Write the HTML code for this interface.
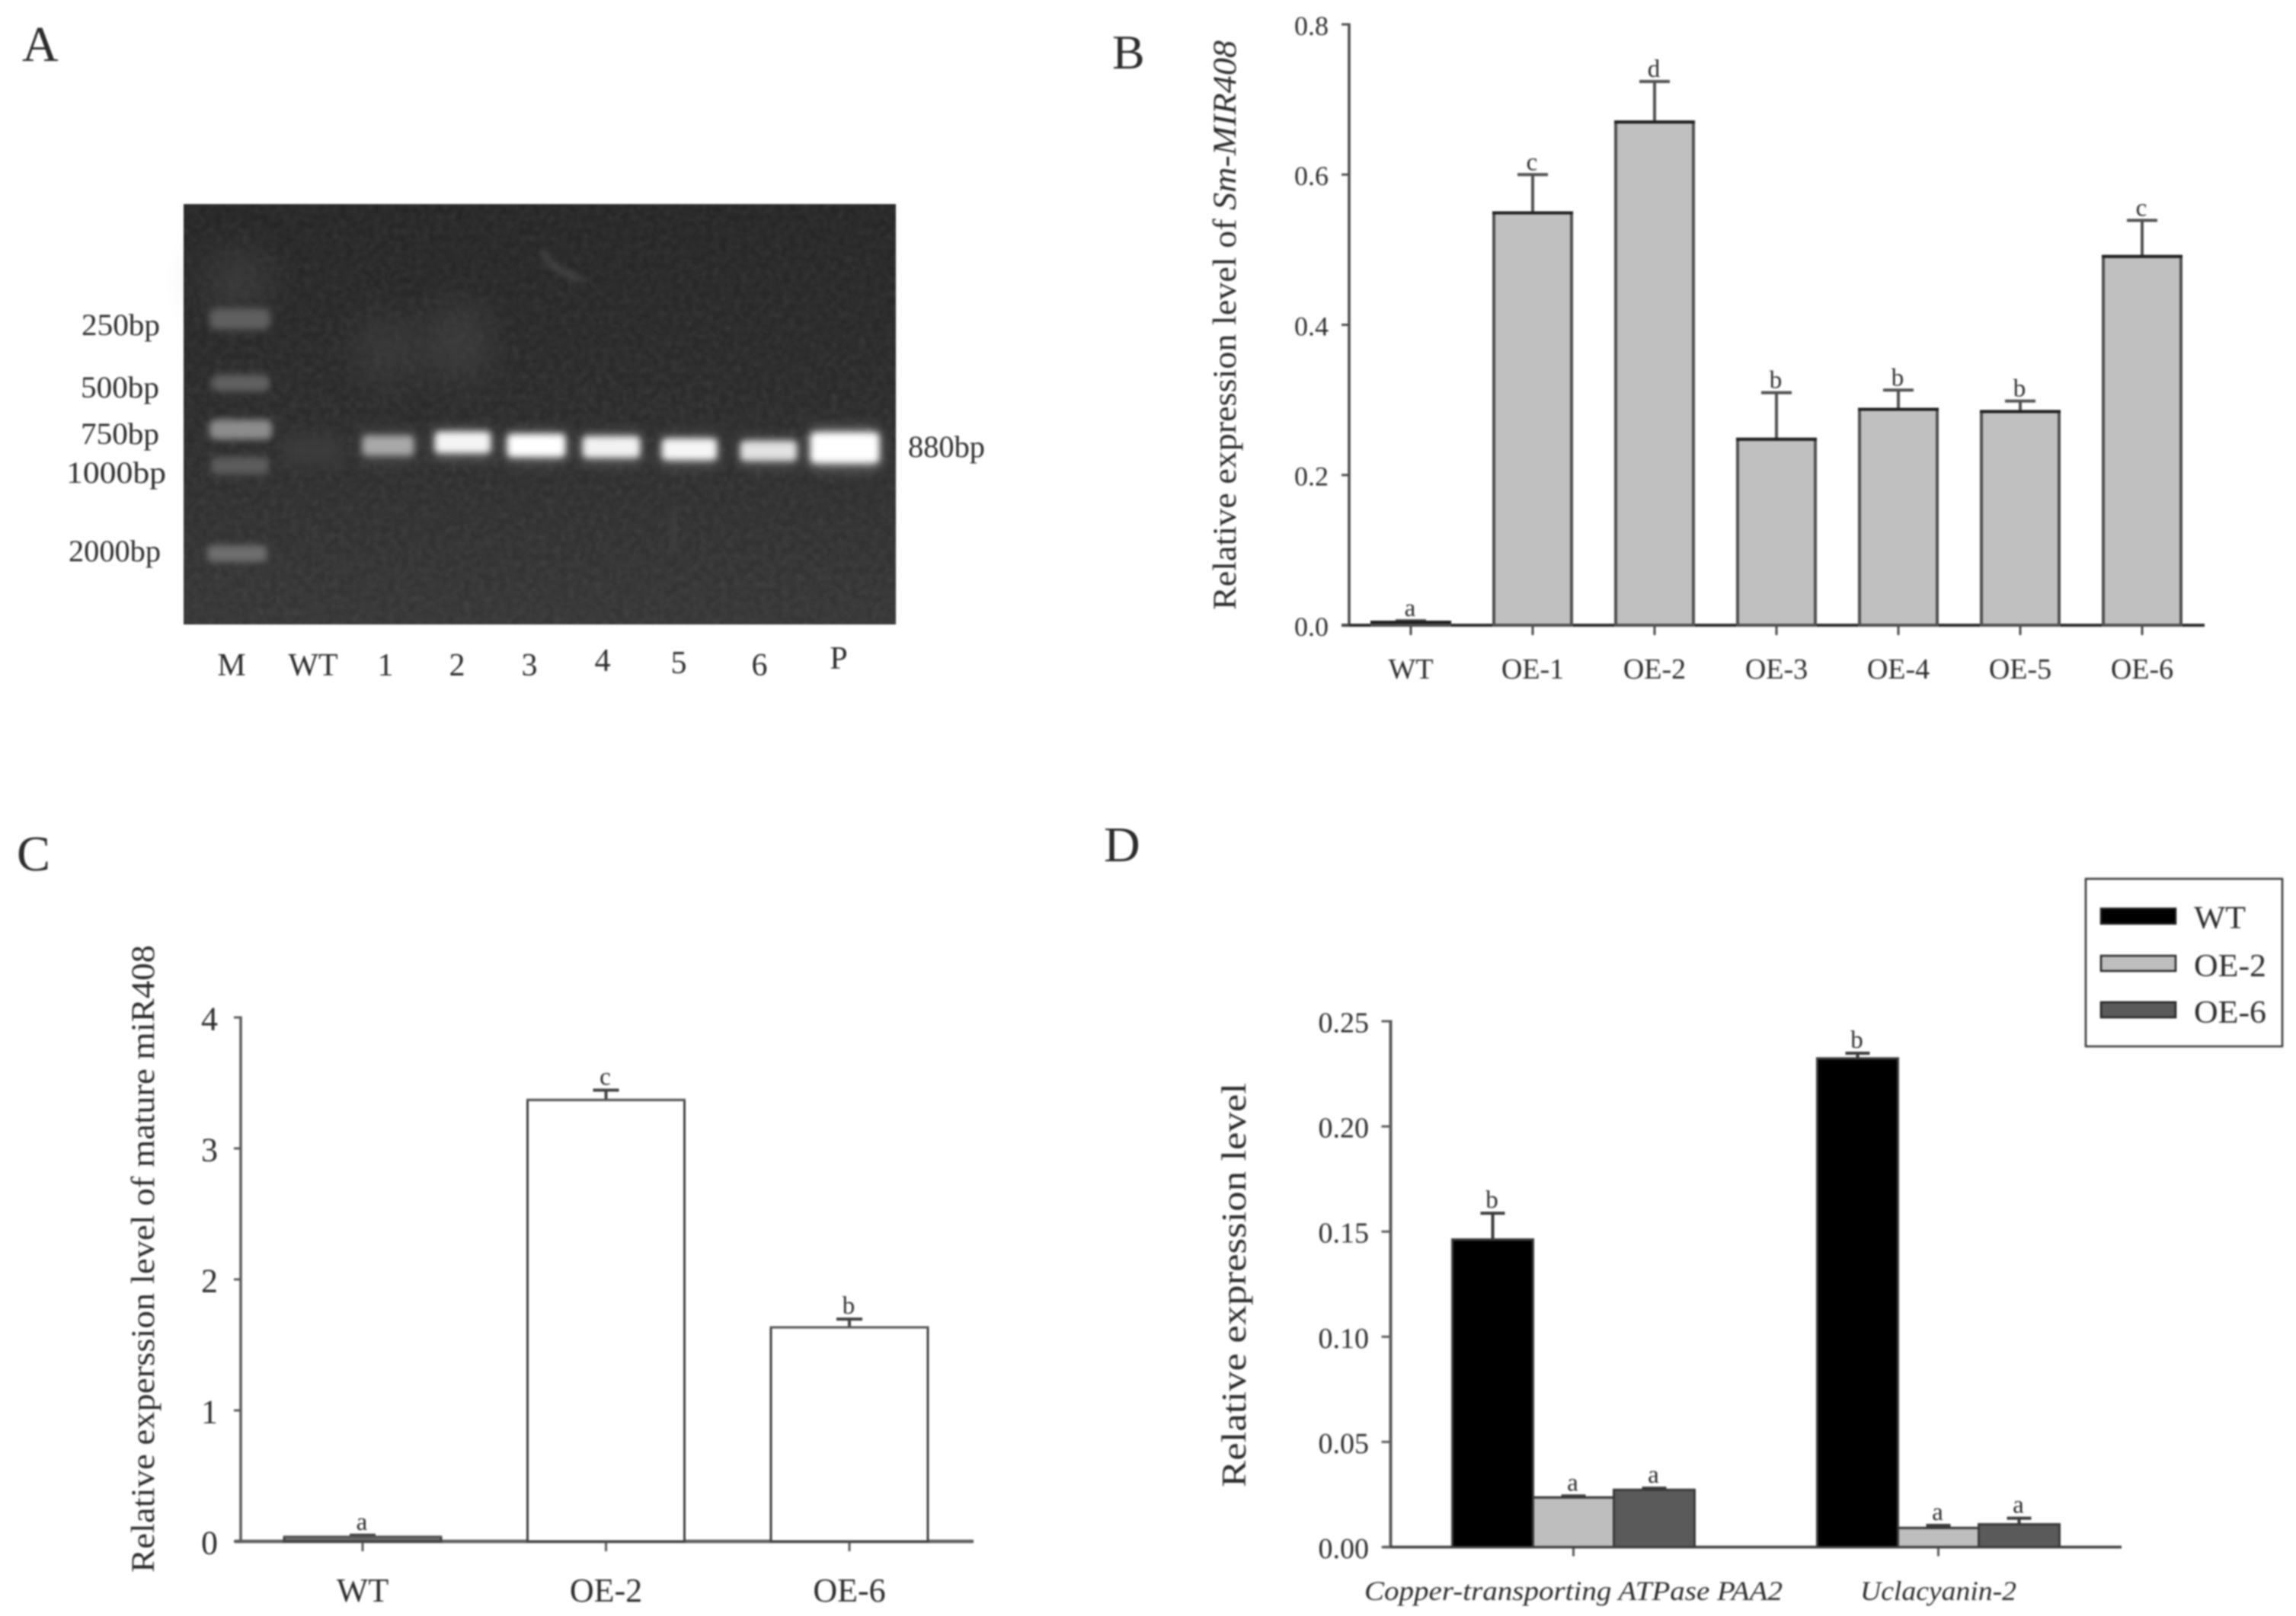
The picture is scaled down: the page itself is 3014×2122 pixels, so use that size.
<!DOCTYPE html>
<html lang="en">
<head>
<meta charset="utf-8">
<title>Sm-MIR408 expression figure</title>
<style>
html,body{margin:0;padding:0;background:#fff;width:3014px;height:2122px;overflow:hidden}
svg{display:block;filter:blur(1.1px)}
text{font-family:"Liberation Serif",serif;fill:#2c2c2c}
</style>
</head>
<body>
<svg id="fig" xmlns="http://www.w3.org/2000/svg" width="3014" height="2122" viewBox="0 0 3014 2122">
  <defs>
    <linearGradient id="gelBg" x1="0" y1="0" x2="0" y2="1">
      <stop offset="0" stop-color="#262626"/>
      <stop offset="0.45" stop-color="#2b2b2b"/>
      <stop offset="1" stop-color="#363636"/>
    </linearGradient>
    <filter id="b3" x="-30%" y="-80%" width="160%" height="260%"><feGaussianBlur stdDeviation="4.5"/></filter>
    <filter id="b8" x="-30%" y="-80%" width="160%" height="260%"><feGaussianBlur stdDeviation="9"/></filter>
    <filter id="b20" x="-60%" y="-60%" width="220%" height="220%"><feGaussianBlur stdDeviation="24"/></filter>
    <filter id="noise" x="0" y="0" width="100%" height="100%">
      <feTurbulence type="fractalNoise" baseFrequency="0.11" numOctaves="2" seed="4"/>
      <feColorMatrix type="matrix" values="0 0 0 0 1  0 0 0 0 1  0 0 0 0 1  0.4 0.4 0 0 -0.28"/>
    </filter>
  </defs>

  <text x="29" y="80" font-size="66">A</text>
  <text x="1460" y="90" font-size="64">B</text>
  <text x="22" y="1143" font-size="66">C</text>
  <text x="1449" y="1131" font-size="66">D</text>

  <g>
    <rect x="241" y="268" width="935" height="552" fill="url(#gelBg)"/>
    <rect x="241" y="268" width="935" height="552" filter="url(#noise)" opacity="0.18"/>
    <ellipse cx="312" cy="370" rx="44" ry="42" fill="#474747" opacity="0.55" filter="url(#b20)"/>
    <ellipse cx="508" cy="460" rx="40" ry="48" fill="#454545" opacity="0.55" filter="url(#b20)"/>
    <ellipse cx="600" cy="450" rx="42" ry="52" fill="#474747" opacity="0.6" filter="url(#b20)"/>
    <path d="M714 330 Q722 356 764 366" stroke="#4a4a4a" stroke-width="7" fill="none" filter="url(#b3)"/>
    <path d="M884 672 Q892 692 880 725" stroke="#414141" stroke-width="9" fill="none" filter="url(#b3)"/>

    <g>
      <rect x="275" y="405" width="80" height="28" rx="10" fill="#5e5e5e" filter="url(#b3)"/>
      <rect x="278" y="492" width="76" height="22" rx="8" fill="#606060" filter="url(#b3)"/>
      <rect x="275" y="551" width="82" height="26" rx="8" fill="#8c8c8c" filter="url(#b3)"/>
      <rect x="277" y="600" width="76" height="23" rx="7" fill="#5c5c5c" filter="url(#b3)"/>
      <rect x="272" y="716" width="78" height="22" rx="6" fill="#6e6e6e" filter="url(#b3)"/>
    </g>

    <g>
      <rect x="372" y="572" width="75" height="40" fill="#3a3a3a" filter="url(#b8)"/>
      <rect x="473" y="568" width="73" height="38" fill="#4c4c4c" filter="url(#b8)"/>
      <rect x="476" y="572" width="67" height="26" rx="5" fill="#a8a8a8" filter="url(#b3)"/>
      <rect x="570" y="564" width="75" height="38" fill="#5e5e5e" filter="url(#b8)"/>
      <rect x="571" y="567" width="73" height="28" rx="5" fill="#f4f4f4" filter="url(#b3)"/>
      <rect x="665" y="568" width="78" height="38" fill="#666" filter="url(#b8)"/>
      <rect x="666" y="570" width="76" height="30" rx="5" fill="#ffffff" filter="url(#b3)"/>
      <rect x="764" y="570" width="77" height="38" fill="#5e5e5e" filter="url(#b8)"/>
      <rect x="765" y="573" width="75" height="28" rx="5" fill="#f2f2f2" filter="url(#b3)"/>
      <rect x="868" y="573" width="74" height="38" fill="#5e5e5e" filter="url(#b8)"/>
      <rect x="869" y="576" width="72" height="28" rx="5" fill="#f6f6f6" filter="url(#b3)"/>
      <rect x="971" y="576" width="76" height="36" fill="#585858" filter="url(#b8)"/>
      <rect x="972" y="579" width="74" height="26" rx="5" fill="#e2e2e2" filter="url(#b3)"/>
      <rect x="1064" y="564" width="90" height="50" fill="#7a7a7a" filter="url(#b8)"/>
      <rect x="1064" y="568" width="90" height="40" rx="6" fill="#ffffff" filter="url(#b3)"/>
    </g>
  </g>

  <g font-size="40">
    <text x="107" y="440" textLength="103" lengthAdjust="spacingAndGlyphs">250bp</text>
    <text x="106" y="522" textLength="103" lengthAdjust="spacingAndGlyphs">500bp</text>
    <text x="106" y="583" textLength="103" lengthAdjust="spacingAndGlyphs">750bp</text>
    <text x="87" y="634" textLength="131" lengthAdjust="spacingAndGlyphs">1000bp</text>
    <text x="90" y="737" textLength="121" lengthAdjust="spacingAndGlyphs">2000bp</text>
    <text x="1192" y="600" textLength="101" lengthAdjust="spacingAndGlyphs">880bp</text>
  </g>
  <g font-size="42" text-anchor="middle">
    <text x="304" y="887">M</text>
    <text x="411" y="887" font-size="42">WT</text>
    <text x="506" y="887">1</text>
    <text x="600" y="887">2</text>
    <text x="695" y="887">3</text>
    <text x="791" y="881">4</text>
    <text x="891" y="884">5</text>
    <text x="997" y="887">6</text>
    <text x="1101" y="878">P</text>
  </g>

  <text transform="translate(1622,801) rotate(-90)" font-size="43" textLength="748" lengthAdjust="spacingAndGlyphs">Relative expression level of <tspan font-style="italic">Sm-MIR408</tspan></text>
  <text transform="translate(202,2065) rotate(-90)" font-size="43" textLength="824" lengthAdjust="spacingAndGlyphs">Relative experssion level of mature miR408</text>
  <text transform="translate(1635,1953) rotate(-90)" font-size="46" textLength="531" lengthAdjust="spacingAndGlyphs">Relative expression level</text>

  <g id="chartB"></g>
  <g id="chartC"></g>
  <g id="chartD"></g>

  <g>
    <rect x="2738" y="1154" width="258" height="220" fill="#fff" stroke="#333" stroke-width="2.5"/>
    <rect x="2758" y="1193" width="98" height="20" fill="#000" stroke="#222" stroke-width="2.5"/>
    <text x="2880" y="1219" font-size="42" textLength="68" lengthAdjust="spacingAndGlyphs">WT</text>
    <rect x="2758" y="1255" width="98" height="20" fill="#bebebe" stroke="#222" stroke-width="2.5"/>
    <text x="2880" y="1282" font-size="42" textLength="95" lengthAdjust="spacingAndGlyphs">OE-2</text>
    <rect x="2758" y="1316" width="98" height="20" fill="#5a5a5a" stroke="#222" stroke-width="2.5"/>
    <text x="2880" y="1343" font-size="42" textLength="95" lengthAdjust="spacingAndGlyphs">OE-6</text>
  </g>
</svg>

<script>
// Panel B data
const bCategories = ['WT','OE-1','OE-2','OE-3','OE-4','OE-5','OE-6'];
const bValues = [0.004,0.549,0.670,0.2476,0.2875,0.2845,0.491];
const bErrors = [0.002,0.051,0.054,0.062,0.0255,0.014,0.048];
const bLetters = ['a','c','d','b','b','b','c'];
const bTicks = [0,0.2,0.4,0.6,0.8];
const bTickLabels = ['0.0','0.2','0.4','0.6','0.8'];

// Panel C data
const cCategories = ['WT','OE-2','OE-6'];
const cValues = [0.035,3.37,1.634];
const cErrors = [0.012,0.075,0.063];
const cLetters = ['a','c','b'];
const cTicks = [0,1,2,3,4];
const cTickLabels = ['0','1','2','3','4'];

// Panel D data
const dCategories = ['Copper-transporting ATPase PAA2','Uclacyanin-2'];
const dSeriesNames = ['WT','OE-2','OE-6'];
const dWT = [0.1462,0.2323];
const dOE2 = [0.0236,0.0091];
const dOE6 = [0.0272,0.0108];
const dWTErr = [0.0125,0.0025];
const dOE2Err = [0.0007,0.0012];
const dOE6Err = [0.0008,0.0029];
const dLettersWT = ['b','b'];
const dLettersOE2 = ['a','a'];
const dLettersOE6 = ['a','a'];
const dTicks = [0,0.05,0.10,0.15,0.20,0.25];
const dTickLabels = ['0.00','0.05','0.10','0.15','0.20','0.25'];

const NS = 'http://www.w3.org/2000/svg';
function mk(parent, tag, attrs, txt){
  const el = document.createElementNS(NS, tag);
  for (const k in attrs) el.setAttribute(k, attrs[k]);
  if (txt !== undefined) el.textContent = txt;
  parent.appendChild(el);
  return el;
}
function slug(s){ return s.toLowerCase().replace(/[^a-z0-9]+/g,'-'); }

function drawAxes(g, cfg){
  const y = v => cfg.y0 - (v / cfg.yMax) * (cfg.y0 - cfg.yTop);
  let yAxis = mk(g,'line',{x1:cfg.axisX,x2:cfg.axisX,y1:y(cfg.yMax)-1.5,y2:cfg.y0,stroke:cfg.axisColor,'stroke-width':cfg.axisW});
  
  
  let xAxis = mk(g,'line',{x1:cfg.xStart,x2:cfg.xEnd,y1:cfg.y0,y2:cfg.y0,stroke:cfg.xAxisColor,'stroke-width':cfg.xAxisW});
  
  
  cfg.ticks.forEach((t,i)=>{
    let tick = mk(g,'line',{x1:cfg.axisX-cfg.tickLen,x2:cfg.axisX,y1:y(t),y2:y(t),stroke:cfg.axisColor,'stroke-width':3});
    
    
    let lab = mk(g,'text',{x:cfg.labelRight,y:y(t)+cfg.tickFont*0.33+2,'text-anchor':'end','font-size':cfg.tickFont},cfg.tickLabels[i]);
    
    
  });
  return y;
}

function drawBar(g, y, x0, w, val, err, letter, fill, name, cfg){
  const cx = x0 + w/2;
  const top = y(val), errTop = y(val + err);
  let stem = mk(g,'line',{x1:cx,x2:cx,y1:top,y2:errTop,stroke:cfg.barStroke,'stroke-width':4});
  
  
  let cap = mk(g,'line',{x1:cx-cfg.capW/2,x2:cx+cfg.capW/2,y1:errTop,y2:errTop,stroke:cfg.barStroke,'stroke-width':4});
  
  
  let bar = mk(g,'rect',{x:x0,y:top,width:w,height:cfg.y0-top,fill:fill,stroke:cfg.barStroke,'stroke-width':cfg.barW});
  
  
  let edge = mk(g,'line',{x1:x0-cfg.barW/2,x2:x0+w+cfg.barW/2,y1:top,y2:top,stroke:cfg.topColor,'stroke-width':cfg.barW});
  
  
  let sig = mk(g,'text',{x:cx-1,y:errTop-cfg.letterGap,'text-anchor':'middle','font-size':cfg.letterFont,fill:'#3c3c3c'},letter);
  
  
}

function xTick(g, x, cfg, key){
  let t = mk(g,'line',{x1:x,x2:x,y1:cfg.y0,y2:cfg.y0+cfg.xTickLen,stroke:cfg.axisColor,'stroke-width':3});
  
  
}

// ---- Panel B ----
(function(){
  const g = document.getElementById('chartB');
  const cfg = {y0:821,yTop:32,yMax:0.8,axisX:1771,xStart:1761,xEnd:2894,axisColor:'#4a4a4a',xAxisColor:'#2a2a2a',axisW:3.5,xAxisW:4,tickLen:10,
    ticks:bTicks,tickLabels:bTickLabels,labelRight:1744,tickFont:36,barStroke:'#505050',topColor:'#1e1e1e',barW:4,capW:40,letterGap:6,letterFont:33,xTickLen:13};
  const y = drawAxes(g,cfg);
  const xCenter = i => 1852 + i*160;
  bCategories.forEach((c,i)=>{
    xTick(g,xCenter(i),cfg,slug(c));
    drawBar(g,y,xCenter(i)-51,102,bValues[i],bErrors[i],bLetters[i],'#c0c0c0',slug(c),cfg);
    let lab = mk(g,'text',{x:xCenter(i),y:891,'text-anchor':'middle','font-size':38},c);
    
    
  });
})();

// ---- Panel C ----
(function(){
  const g = document.getElementById('chartC');
  const cfg = {y0:2024,yTop:1336,yMax:4,axisX:316,xStart:308,xEnd:1278,axisColor:'#5a5a5a',xAxisColor:'#5e5e5e',axisW:3.5,xAxisW:4.5,tickLen:9,
    ticks:cTicks,tickLabels:cTickLabels,labelRight:286,tickFont:44,barStroke:'#404040',topColor:'#555555',barW:3,capW:34,letterGap:7,letterFont:33,xTickLen:13};
  const y = drawAxes(g,cfg);
  const xCenter = i => 476 + i*319.5;
  cCategories.forEach((c,i)=>{
    xTick(g,xCenter(i),cfg,slug(c));
    drawBar(g,y,xCenter(i)-103,206,cValues[i],cErrors[i],cLetters[i],i===0?'#6a6a6a':'#ffffff',slug(c),cfg);
    let lab = mk(g,'text',{x:xCenter(i),y:2103,'text-anchor':'middle','font-size':44},c);
    
    
  });
})();

// ---- Panel D ----
(function(){
  const g = document.getElementById('chartD');
  const cfg = {y0:2031.5,yTop:1341,yMax:0.25,axisX:1825.5,xStart:1816,xEnd:2785,axisColor:'#5a5a5a',xAxisColor:'#3c3c3c',axisW:4,xAxisW:3.5,tickLen:12,
    ticks:dTicks,tickLabels:dTickLabels,labelRight:1797,tickFont:38,barStroke:'#3a3a3a',topColor:'#3a3a3a',barW:3,capW:32,letterGap:7,letterFont:33,xTickLen:12};
  const y = drawAxes(g,cfg);
  const groupCenter = i => 2065.5 + i*479;
  const barW = 106;
  const values = [dWT,dOE2,dOE6];
  const errs = [dWTErr,dOE2Err,dOE6Err];
  const letters = [dLettersWT,dLettersOE2,dLettersOE6];
  const fills = ['#000000','#bebebe','#5a5a5a'];
  dCategories.forEach((c,i)=>{
    xTick(g,groupCenter(i),cfg,'group-'+(i+1));
    dSeriesNames.forEach((s,k)=>{
      drawBar(g,y,groupCenter(i)-barW*1.5+k*barW,barW,values[k][i],errs[k][i],letters[k][i],fills[k],'group'+(i+1)+'-'+slug(s),cfg);
    });
    let lab = mk(g,'text',{x:groupCenter(i),y:2101,'text-anchor':'middle','font-size':36,'font-style':'italic',textLength:i===0?549:205,lengthAdjust:'spacingAndGlyphs'},c);
    
    
  });
})();
</script>
</body>
</html>
